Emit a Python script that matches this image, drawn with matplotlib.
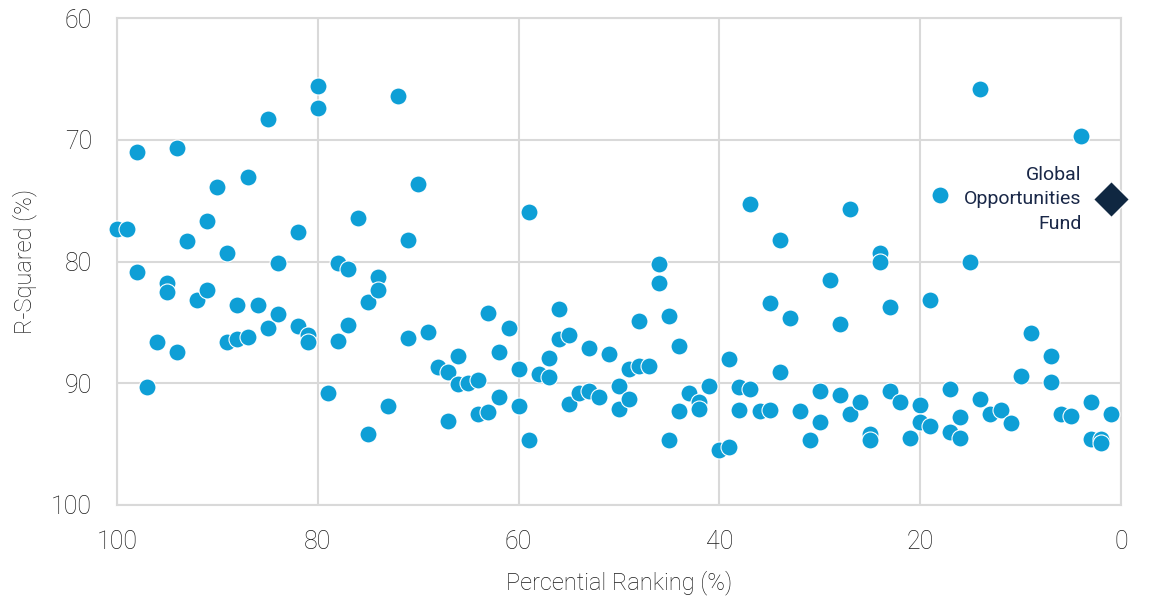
import matplotlib
matplotlib.use("Agg")
import matplotlib.pyplot as plt

# Percentile ranking (%) and R-squared (%) for peer funds
ranking = [100, 99, 98, 98, 97, 96, 95, 95, 94, 94, 93, 92, 91, 91, 90,
           89, 89, 88, 88, 87, 87, 86, 85, 85, 84, 84, 82, 82, 81, 81,
           80, 80, 79, 78, 78, 77, 77, 76, 75, 75, 74, 74, 73, 72, 71,
           71, 70, 69, 68, 67, 67, 66, 66, 65, 64, 64, 63, 63, 62, 62,
           61, 60, 60, 59, 59, 58, 57, 57, 56, 56, 55, 55, 54, 53, 53,
           52, 51, 50, 50, 49, 49, 48, 48, 47, 46, 46, 45, 45, 44, 44,
           43, 42, 42, 41, 40, 39, 39, 38, 38, 37, 37, 36, 35, 35, 34,
           34, 33, 32, 31, 30, 30, 29, 28, 28, 27, 27, 26, 25, 25, 24,
           24, 23, 23, 22, 21, 20, 20, 19, 19, 18, 17, 17, 16, 16, 15,
           14, 14, 13, 12, 11, 10, 9, 7, 7, 6, 5, 4, 3, 3, 2, 2, 1]
r_squared = [77.3, 77.3, 71.0, 80.9, 90.3, 86.6, 81.8, 82.5, 70.7, 87.4, 78.3, 83.2, 76.7, 82.3, 73.9,
             79.3, 86.6, 83.6, 86.4, 73.1, 86.2, 83.6, 68.3, 85.5, 80.1, 84.3, 77.6, 85.3, 86.0, 86.6,
             65.6, 67.4, 90.8, 80.1, 86.5, 80.6, 85.2, 76.4, 83.3, 94.2, 81.3, 82.3, 91.9, 66.4, 78.2,
             86.3, 73.6, 85.8, 88.7, 89.1, 93.1, 87.8, 90.1, 90.0, 89.7, 92.5, 84.2, 92.4, 87.4, 91.1,
             85.5, 88.8, 91.9, 75.9, 94.7, 89.2, 87.9, 89.5, 83.9, 86.4, 86.0, 91.7, 90.8, 87.1, 90.6,
             91.1, 87.6, 90.2, 92.1, 88.8, 91.3, 84.9, 88.6, 88.6, 80.2, 81.8, 84.5, 94.7, 86.9, 92.3,
             90.8, 91.5, 92.1, 90.2, 95.5, 88.0, 95.2, 90.3, 92.2, 75.3, 90.5, 92.3, 83.4, 92.2, 78.2,
             89.1, 84.6, 92.3, 94.7, 90.6, 93.2, 81.5, 85.1, 91.0, 75.7, 92.5, 91.5, 94.2, 94.7, 79.3,
             80.0, 83.7, 90.6, 91.5, 94.5, 91.8, 93.2, 83.2, 93.5, 74.5, 90.5, 94.0, 92.8, 94.5, 80.0,
             65.8, 91.3, 92.5, 92.2, 93.3, 89.4, 85.9, 87.8, 89.9, 92.5, 92.7, 69.7, 91.5, 94.6, 94.6, 94.9, 92.5]

fund_name = "Global\nOpportunities\nFund"
fund_ranking = [1.0]
fund_r_squared = [74.9]

x_ticks = [100, 80, 60, 40, 20, 0]
y_ticks = [60, 70, 80, 90, 100]

plt.rcParams['font.family'] = ['Roboto', 'DejaVu Sans']

fig = plt.figure(figsize=(11.5, 6.0), dpi=100)
ax = fig.add_axes([117/1150, 1 - 505/600, (1121-117)/1150, (505-18)/600])

grid_color = "#D9D9D9"
ax.scatter(ranking, r_squared, s=150, color="#0E9FD6", edgecolors="white",
           linewidths=0.8, zorder=3, clip_on=False)
ax.scatter(fund_ranking, fund_r_squared, marker="D", s=330, color="#0F2741",
           edgecolors="white", linewidths=0.8, zorder=4, clip_on=False)
ax.text(fund_ranking[0] + 2.9, fund_r_squared[0], fund_name, ha="right", va="center",
        fontsize=14, color="#1A2848", fontweight="normal", linespacing=1.45, zorder=5)

ax.set_xlim(100, 0)
ax.set_ylim(100, 60)
ax.set_xticks(x_ticks)
ax.set_yticks(y_ticks)
ax.grid(True, color=grid_color, linewidth=1.5, zorder=0)
ax.set_axisbelow(True)
for sp in ax.spines.values():
    sp.set_color(grid_color)
    sp.set_linewidth(1.5)
ax.tick_params(length=0, labelsize=18, colors="#1A1A1A", pad=18)
for lbl in ax.get_xticklabels() + ax.get_yticklabels():
    lbl.set_fontweight("light")

ax.set_xlabel("Percential Ranking (%)", fontsize=17, color="#1A1A1A",
              fontweight="light", labelpad=12)
ax.set_ylabel("R-Squared (%)", fontsize=17, color="#1A1A1A",
              fontweight="light", labelpad=10)

fig.savefig("out.png", dpi=100)
